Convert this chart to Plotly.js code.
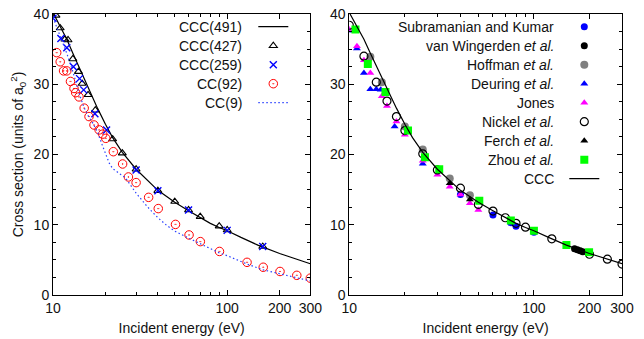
<!DOCTYPE html>
<html>
<head>
<meta charset="utf-8">
<script src="https://cdn.plot.ly/plotly-3.0.1.min.js"></script>
<style>html,body{margin:0;padding:0;background:#fff;}#chart{width:644px;height:339px;}</style>
</head>
<body>
<div id="chart"></div>
<script>
// ---------- Left panel data ----------
const cccE = [10, 11, 12, 13, 14, 15, 16, 18, 20, 22, 25, 30, 40, 50, 60, 70, 80, 90, 100, 120, 150, 200, 250, 300];
const cccY = [40.2, 38.2, 36.4, 34.4, 32.6, 30.9, 29.3, 26.6, 24.3, 22.4, 20.3, 17.9, 14.9, 13.2, 12.0, 11.0, 10.2, 9.6, 9.15, 8.2, 7.1, 5.9, 5.1, 4.45];

const ccc427E = [10.4, 11, 11.7, 12.2, 13, 14, 14.7, 15.9, 17.5, 22, 25, 30, 40, 50, 60, 70, 90, 100, 160];
const ccc427Y = [39.8, 38.0, 36.4, 36.3, 33.6, 31.8, 30.1, 28.5, 26.3, 22.2, 20.2, 17.9, 14.85, 13.3, 12.1, 11.15, 9.8, 9.25, 6.9];

const ccc259E = [10, 11.1, 12, 13.1, 14.2, 15, 17.4, 20.3, 30, 40, 60, 100, 160];
const ccc259Y = [39.4, 36.5, 35.2, 32.5, 30.8, 29.2, 25.8, 23.5, 17.8, 14.85, 12.1, 9.2, 6.9];

const cc92E = [10.5, 11.0, 11.5, 12.0, 12.6, 13.2, 13.5, 14.1, 15.1, 16.1, 17.2, 18.4, 19.3, 20.1, 22.2, 25.1, 27.1, 30, 35.4, 40.2, 50.5, 60.4, 70.1, 90.3, 130, 161, 201, 251, 300];
const cc92Y = [34.5, 33.2, 31.9, 31.9, 30.4, 29.4, 28.8, 28.2, 26.6, 25.4, 24.2, 23.5, 22.9, 22.3, 20.4, 18.65, 16.8, 16.0, 13.9, 12.3, 10.05, 8.55, 7.6, 6.2, 4.65, 3.95, 3.35, 2.8, 2.4];

const cc9E = [10, 11, 12, 13, 14, 15, 16, 17, 18, 19, 20, 21, 22, 23, 24, 26, 28, 30, 35, 40, 45, 50, 60, 70, 80, 90, 100, 130, 160, 200, 250, 300];
const cc9Y = [39.5, 36.8, 34.4, 31.8, 29.0, 26.8, 25.4, 24.4, 23.2, 21.6, 20.0, 18.8, 18.0, 17.6, 17.3, 16.7, 15.6, 14.5, 12.5, 11.0, 9.9, 9.1, 8.1, 7.3, 6.6, 6.0, 5.6, 4.4, 3.6, 3.0, 2.4, 2.0];

// ---------- Right panel data ----------
const subE = [40, 60, 75, 80, 100];
const subY = [14.3, 11.4, 10.3, 9.8, 8.95];
const vwE = [166, 172, 178, 184];
const vwY = [6.6, 6.45, 6.3, 6.15];
const hofE = [13, 15, 20, 25, 35, 45];
const hofY = [33.9, 30.3, 24.0, 20.7, 16.6, 14.2];
const deuE = [10, 11, 12, 13, 14, 14.8, 17.6, 25];
const deuY = [37.6, 35.1, 31.6, 29.3, 29.3, 29.2, 24.0, 18.7];
const jonE = [10, 11, 12, 13, 15, 16, 18, 20, 25, 30, 35, 40, 45, 50];
const jonY = [37.8, 35.4, 33.4, 31.6, 28.3, 26.9, 24.7, 22.8, 19.1, 17.1, 15.4, 14.3, 13.05, 12.1];
const nicE = [10, 12, 14, 16, 18, 20, 25, 30, 40, 50, 60, 70, 80, 90, 125, 200, 250, 300];
const nicY = [38.4, 34.0, 30.3, 27.6, 25.4, 23.4, 20.1, 17.8, 15.2, 12.9, 11.95, 11.0, 10.2, 9.65, 8.0, 5.8, 5.1, 4.4];
const ferE = [35, 45];
const ferY = [15.9, 13.6];
const zhoE = [10.8, 12.6, 15.7, 20.8, 25.7, 30.7, 50.6, 75, 100, 150, 199];
const zhoY = [37.8, 32.9, 28.9, 23.4, 19.6, 17.9, 13.4, 10.6, 9.15, 7.1, 6.1];

const leftNames = ['CCC(491)', 'CCC(427)', 'CCC(259)', 'CC(92)', 'CC(9)'];
const rightNames = ['Subramanian and Kumar', 'van Wingerden <i>et al.</i>', 'Hoffman <i>et al.</i>', 'Deuring <i>et al.</i>', 'Jones', 'Nickel <i>et al.</i>', 'Ferch <i>et al.</i>', 'Zhou <i>et al.</i>', 'CCC'];

const xTickVals = [10, 100, 200, 300];
const xTickText = ['10', '100', '200', '300'];
const xMinorVals = [20, 30, 40, 50, 60, 70, 80, 90];
const yTickVals = [0, 10, 20, 30, 40];

const L1 = {xaxis: 'x', yaxis: 'y', legend: 'legend'};
const L2 = {xaxis: 'x2', yaxis: 'y2', legend: 'legend2'};

const traces = [
  Object.assign({x: cccE, y: cccY, mode: 'lines', name: ' ', line: {color: '#000', width: 1.2}}, L1),
  Object.assign({x: ccc427E, y: ccc427Y, mode: 'markers', name: ' ', marker: {symbol: 'triangle-up-open', size: 7, color: '#000', line: {width: 1.1}}}, L1),
  Object.assign({x: ccc259E, y: ccc259Y, mode: 'markers', name: ' ', marker: {symbol: 'x-thin-open', size: 7, color: '#0000ff', line: {width: 1.4, color: '#0000ff'}}}, L1),
  Object.assign({x: cc92E, y: cc92Y, mode: 'markers', name: ' ', marker: {symbol: 'circle-open-dot', size: 8.5, color: '#ff0000', line: {width: 1}}}, L1),
  Object.assign({x: cc9E, y: cc9Y, mode: 'lines', name: ' ', line: {color: '#2a40ff', width: 1.2, dash: '1.5px,2.5px'}}, L1),

  Object.assign({x: subE, y: subY, mode: 'markers', name: ' ', marker: {symbol: 'circle', size: 7, color: '#0000ff'}}, L2),
  Object.assign({x: vwE, y: vwY, mode: 'markers', name: ' ', marker: {symbol: 'circle', size: 7, color: '#000'}}, L2),
  Object.assign({x: hofE, y: hofY, mode: 'markers', name: ' ', marker: {symbol: 'circle', size: 8, color: '#808080'}}, L2),
  Object.assign({x: deuE, y: deuY, mode: 'markers', name: ' ', marker: {symbol: 'triangle-up', size: 7, color: '#0000ff'}}, L2),
  Object.assign({x: jonE, y: jonY, mode: 'markers', name: ' ', marker: {symbol: 'triangle-up', size: 7, color: '#ff00ff'}}, L2),
  Object.assign({x: nicE, y: nicY, mode: 'markers', name: ' ', marker: {symbol: 'circle-open', size: 8, color: '#000', line: {width: 1.2}}}, L2),
  Object.assign({x: ferE, y: ferY, mode: 'markers', name: ' ', marker: {symbol: 'triangle-up', size: 7, color: '#000'}}, L2),
  Object.assign({x: zhoE, y: zhoY, mode: 'markers', name: ' ', marker: {symbol: 'square', size: 8, color: '#00ff00'}}, L2),
  Object.assign({x: cccE, y: cccY, mode: 'lines', name: ' ', line: {color: '#000', width: 1.2}}, L2)
];

const W = 644, H = 339, ML = 53, MR = 22, MT = 14, MB = 44;
const PW = W - ML - MR, PH = H - MT - MB;
const px2x = p => (p - ML) / PW;
const py2y = p => (H - MB - p) / PH;

function xAxis(domain, anchor, title) {
  return {
    type: 'log', domain: domain, anchor: anchor, range: [1, Math.log10(300)],
    tickmode: 'array', tickvals: xTickVals, ticktext: xTickText,
    ticks: 'inside', ticklen: 5, tickwidth: 1, tickcolor: '#000',
    minor: {tickmode: 'array', tickvals: xMinorVals, ticks: 'inside', ticklen: 3, tickwidth: 1, tickcolor: '#000', showgrid: false},
    showline: true, linecolor: '#000', linewidth: 1, mirror: 'allticks',
    showgrid: false, zeroline: false,
    title: {text: title, font: {size: 14}, standoff: 8}
  };
}
function yAxis(anchor, title) {
  return {
    anchor: anchor, range: [0, 40], tickmode: 'array', tickvals: yTickVals,
    ticks: 'inside', ticklen: 5, tickwidth: 1, tickcolor: '#000',
    minor: {dtick: 2.5, ticks: 'inside', ticklen: 3, tickwidth: 1, tickcolor: '#000', showgrid: false},
    showline: true, linecolor: '#000', linewidth: 1, mirror: 'allticks',
    showgrid: false, zeroline: false,
    title: title ? {text: title, font: {size: 14}, standoff: 6} : {text: ''}
  };
}

const ROW0 = 26.7, ROWH = 19;
const annotations = [];
leftNames.forEach((t, i) => annotations.push({
  xref: 'paper', yref: 'paper', x: px2x(244), y: py2y(ROW0 + i * ROWH),
  xanchor: 'right', yanchor: 'middle', text: t, showarrow: false, font: {size: 14, color: '#111'}
}));
rightNames.forEach((t, i) => annotations.push({
  xref: 'paper', yref: 'paper', x: px2x(556), y: py2y(ROW0 + i * ROWH),
  xanchor: 'right', yanchor: 'middle', text: t, showarrow: false, font: {size: 14, color: '#111'}
}));

const legendCommon = {
  bgcolor: 'rgba(0,0,0,0)', borderwidth: 0, font: {size: 10},
  xanchor: 'left', yanchor: 'top', tracegroupgap: 0, itemwidth: 30
};

const layout = {
  width: W, height: H,
  margin: {l: ML, r: MR, t: MT, b: MB, pad: 0},
  paper_bgcolor: '#fff', plot_bgcolor: '#fff',
  font: {family: '"Liberation Sans", Arial, sans-serif', size: 14, color: '#111'},
  showlegend: true,
  xaxis: xAxis([0, px2x(310.3)], 'y', 'Incident energy (eV)'),
  yaxis: yAxis('x', 'Cross section (units of a<sub>0</sub><sup>2</sup>)'),
  xaxis2: xAxis([px2x(349.3), 1], 'y2', 'Incident energy (eV)'),
  yaxis2: yAxis('x2', null),
  legend: Object.assign({x: px2x(253.3), y: py2y(ROW0 - 14.5)}, legendCommon),
  legend2: Object.assign({x: px2x(564.3), y: py2y(ROW0 - 14.5)}, legendCommon),
  annotations: annotations
};

Plotly.newPlot('chart', traces, layout, {displayModeBar: false, staticPlot: true});
</script>
</body>
</html>
